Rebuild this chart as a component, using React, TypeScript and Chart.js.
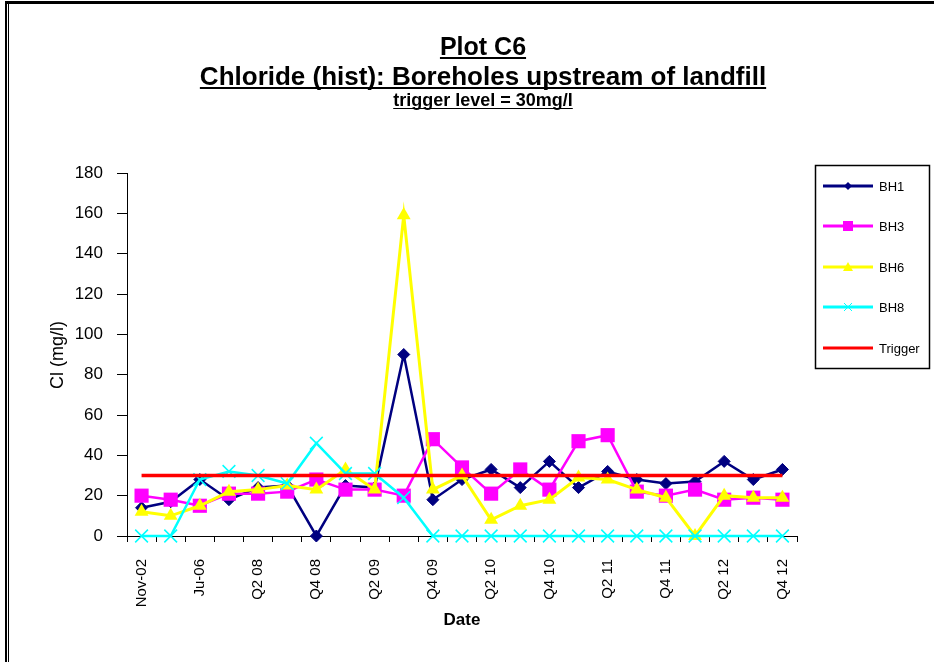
import React, { useEffect, useRef } from "react";
import { Chart, registerables } from "chart.js";

Chart.register(...registerables);

const categories = [
  "Nov-02", "Mar-05", "Ju-06", "Q4 07", "Q2 08", "Q3 08", "Q4 08", "Q1 09",
  "Q2 09", "Q3 09", "Q4 09", "Q1 10", "Q2 10", "Q3 10", "Q4 10", "Q1 11",
  "Q2 11", "Q3 11", "Q4 11", "Q1 12", "Q2 12", "Q3 12", "Q4 12",
];
const bh1 = [14, 17, 28, 18, 24, 25, 0, 25, 24, 90, 18, 28, 33, 24, 37, 24, 32, 28, 26, 27, 37, 28, 33];
const bh3 = [20, 18, 15, 21, 21, 22, 28, 23, 23, 20, 48, 34, 21, 33, 23, 47, 50, 22, 20, 23, 18, 19, 18];
const bh6 = [12, 10, 15, 22, 23, 25, 23, 33, 23, 159, 23, 30, 8, 15, 18, 29, 28, 23, 19, 0, 20, 19, 19];
const bh8 = [0, 0, 28, 32, 30, 26, 46, 31, 31, 19, 0, 0, 0, 0, 0, 0, 0, 0, 0, 0, 0, 0, 0];
const trigger = [30, 30, 30, 30, 30, 30, 30, 30, 30, 30, 30, 30, 30, 30, 30, 30, 30, 30, 30, 30, 30, 30, 30];

const yTicks = [0, 20, 40, 60, 80, 100, 120, 140, 160, 180];

const titleLines = ["Plot C6", "Chloride (hist): Boreholes upstream of landfill", "trigger level = 30mg/l"];
const legendNames = ["BH1", "BH3", "BH6", "BH8", "Trigger"];
const yTitle = "Cl (mg/l)";
const xTitle = "Date";

const FONT = "'Liberation Sans', Arial, sans-serif";
const NAVY = "#000080";
const MAGENTA = "#FF00FF";
const YELLOW = "#FFFF00";
const CYAN = "#00FFFF";
const RED = "#FF0000";

function drawMarker(ctx: CanvasRenderingContext2D, kind: string, x: number, y: number, color: string) {
  ctx.save();
  ctx.fillStyle = color;
  ctx.strokeStyle = color;
  ctx.beginPath();
  if (kind === "diamond") {
    const r = 4;
    ctx.moveTo(x, y - r);
    ctx.lineTo(x + r, y);
    ctx.lineTo(x, y + r);
    ctx.lineTo(x - r, y);
    ctx.closePath();
    ctx.fill();
  } else if (kind === "square") {
    ctx.rect(x - 5, y - 5, 10, 10);
    ctx.fill();
  } else if (kind === "triangle") {
    ctx.moveTo(x, y - 5);
    ctx.lineTo(x + 5, y + 4);
    ctx.lineTo(x - 5, y + 4);
    ctx.closePath();
    ctx.fill();
  } else if (kind === "cross") {
    ctx.lineWidth = 1;
    ctx.moveTo(x - 4, y - 4);
    ctx.lineTo(x + 4, y + 4);
    ctx.moveTo(x + 4, y - 4);
    ctx.lineTo(x - 4, y + 4);
    ctx.stroke();
  }
  ctx.restore();
}

const decorPlugin = {
  id: "decor",
  beforeDraw(chart: any) {
    const ctx: CanvasRenderingContext2D = chart.ctx;
    ctx.save();
    ctx.fillStyle = "#ffffff";
    ctx.fillRect(0, 0, chart.width, chart.height);
    ctx.restore();
  },
  afterDraw(chart: any) {
    const ctx: CanvasRenderingContext2D = chart.ctx;
    ctx.save();
    // frame
    ctx.fillStyle = "#000";
    ctx.fillRect(5, 1, 929, 3);
    ctx.fillRect(5, 1, 2, 661);
    ctx.fillRect(8, 4, 1, 658);

    // titles
    const cx = 483;
    const specs = [
      { text: titleLines[0], size: 25, base: 55, ul: 2 },
      { text: titleLines[1], size: 26, base: 85, ul: 2 },
      { text: titleLines[2], size: 18, base: 106, ul: 1 },
    ];
    ctx.textAlign = "center";
    ctx.textBaseline = "alphabetic";
    for (const s of specs) {
      ctx.font = `bold ${s.size}px ${FONT}`;
      ctx.fillText(s.text, cx, s.base);
      const w = ctx.measureText(s.text).width;
      ctx.fillRect(cx - w / 2, s.base + 2, w, s.ul);
    }

    // axis titles
    ctx.font = `18px ${FONT}`;
    ctx.textAlign = "center";
    ctx.textBaseline = "middle";
    ctx.save();
    ctx.translate(58, 355);
    ctx.rotate(-Math.PI / 2);
    ctx.fillText(yTitle, 0, 0);
    ctx.restore();
    ctx.font = `bold 17px ${FONT}`;
    ctx.fillText(xTitle, 462, 620);

    // legend
    ctx.lineWidth = 1.5;
    ctx.strokeStyle = "#000";
    ctx.strokeRect(815.5, 165.5, 114, 203);
    const rows = [186, 226, 267, 307, 348];
    const colors = [NAVY, MAGENTA, YELLOW, CYAN, RED];
    const markers = ["diamond", "square", "triangle", "cross", ""];
    ctx.font = `13px ${FONT}`;
    ctx.textAlign = "left";
    ctx.textBaseline = "middle";
    for (let i = 0; i < legendNames.length; i++) {
      const y = rows[i];
      ctx.strokeStyle = colors[i];
      ctx.lineWidth = 3;
      ctx.beginPath();
      ctx.moveTo(823, y);
      ctx.lineTo(873, y);
      ctx.stroke();
      if (markers[i]) drawMarker(ctx, markers[i], 848, y, colors[i]);
      ctx.fillStyle = "#000";
      ctx.fillText(legendNames[i], 879, y + 1);
    }
    ctx.restore();
  },
};

export default function App() {
  const ref = useRef<HTMLCanvasElement | null>(null);
  useEffect(() => {
    if (!ref.current) return;
    const chart = new Chart(ref.current, {
      type: "line",
      data: {
        labels: categories,
        datasets: [
          {
            label: "BH1", data: bh1, borderColor: NAVY, backgroundColor: NAVY, borderWidth: 2.5,
            pointStyle: "rectRot", pointRadius: 6, pointBorderWidth: 1, pointBackgroundColor: NAVY,
            pointBorderColor: NAVY, order: 5, clip: false, tension: 0,
          },
          {
            label: "BH3", data: bh3, borderColor: MAGENTA, backgroundColor: MAGENTA, borderWidth: 2.5,
            pointStyle: "rect", pointRadius: 10, pointBorderWidth: 0, pointBackgroundColor: MAGENTA,
            pointBorderColor: MAGENTA, order: 4, clip: false, tension: 0,
          },
          {
            label: "BH6", data: bh6, borderColor: YELLOW, backgroundColor: YELLOW, borderWidth: 3,
            pointStyle: "triangle", pointRadius: 8, pointBorderWidth: 0, pointBackgroundColor: YELLOW,
            pointBorderColor: YELLOW, order: 3, clip: false, tension: 0,
          },
          {
            label: "BH8", data: bh8, borderColor: CYAN, backgroundColor: CYAN, borderWidth: 2.5,
            pointStyle: "crossRot", pointRadius: 9, pointBorderWidth: 1.5, pointBackgroundColor: CYAN,
            pointBorderColor: CYAN, order: 2, clip: false, tension: 0,
          },
          {
            label: "Trigger", data: trigger, borderColor: RED, backgroundColor: RED, borderWidth: 3.5,
            pointRadius: 0, order: 1, clip: false, tension: 0,
          },
        ],
      },
      options: {
        responsive: false,
        animation: false,
        events: [],
        layout: { padding: { top: 173, right: 137, left: 0, bottom: 0 } },
        plugins: { legend: { display: false }, tooltip: { enabled: false }, title: { display: false } },
        scales: {
          x: {
            type: "category",
            offset: true,
            afterFit: (scale: any) => { scale.height = 126; },
            grid: { display: true, offset: true, drawOnChartArea: false, drawTicks: true, tickLength: 6, color: "#000", lineWidth: 1 },
            border: { display: true, color: "#000", width: 1 },
            ticks: {
              autoSkip: false,
              maxRotation: 90,
              minRotation: 90,
              padding: 17,
              color: "#000",
              font: { family: FONT, size: 15 },
              callback: function (this: any, val: any, index: number) {
                return index % 2 === 0 ? categories[index] : "";
              },
            },
          },
          y: {
            min: 0,
            max: 180,
            afterFit: (scale: any) => { scale.width = 127; },
            afterBuildTicks: (scale: any) => { scale.ticks = yTicks.map((v) => ({ value: v })); },
            grid: { display: true, drawOnChartArea: false, drawTicks: true, tickLength: 10, color: "#000", lineWidth: 1 },
            border: { display: true, color: "#000", width: 1 },
            ticks: { stepSize: 20, padding: 14, color: "#000", font: { family: FONT, size: 17 } },
          },
        },
      },
      plugins: [decorPlugin],
    });
    return () => chart.destroy();
  }, []);
  return (
    <div style={{ position: "fixed", left: 0, top: 0, width: 934, height: 662, background: "#fff" }}>
      <canvas ref={ref} width={934} height={662} style={{ display: "block", width: 934, height: 662 }} />
    </div>
  );
}
